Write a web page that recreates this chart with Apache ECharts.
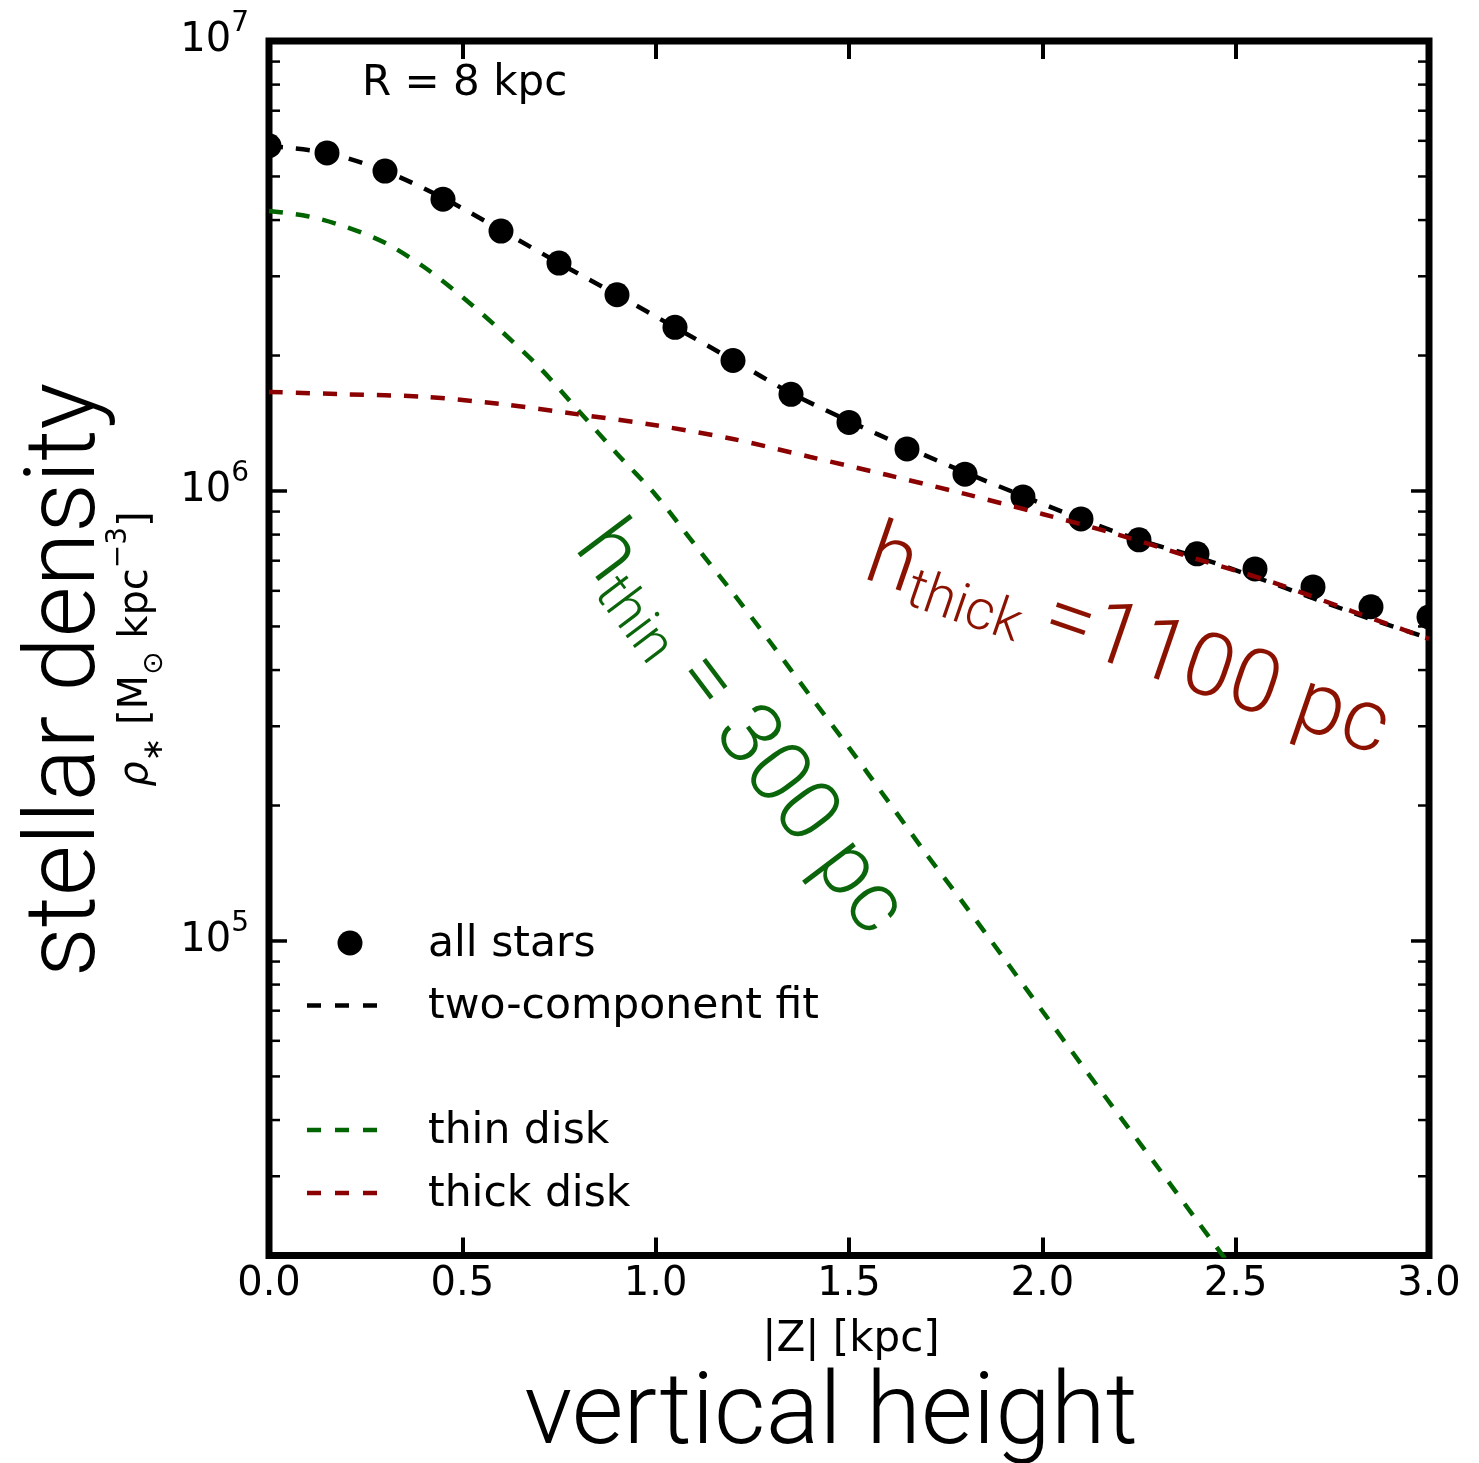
<!DOCTYPE html>
<html>
<head>
<meta charset="utf-8">
<script src="https://cdn.jsdelivr.net/npm/echarts@6/dist/echarts.min.js"></script>
<style>
html,body{margin:0;padding:0;background:#fff;}
#chart{width:1479px;height:1463px;}
</style>
</head>
<body>
<div id="chart"></div>
<script>
// ---- data ----
const dotZ   = [0.00,0.15,0.30,0.45,0.60,0.75,0.90,1.05,1.20,1.35,1.50,1.65,1.80,1.95,2.10,2.25,2.40,2.55,2.70,2.85,3.00];
const dotRho = [5.85e6,5.64e6,5.14e6,4.45e6,3.78e6,3.21e6,2.73e6,2.31e6,1.95e6,1.64e6,1.42e6,1.24e6,1.09e6,9.70e5,8.67e5,7.79e5,7.25e5,6.71e5,6.12e5,5.53e5,5.25e5];

const fitZ   = [0.00,0.15,0.30,0.45,0.60,0.75,0.90,1.05,1.20,1.35,1.50,1.65,1.80,1.95,2.10,2.25,2.40,2.55,2.70,2.85,3.00];
const fitRho = [5.84e6,5.64e6,5.14e6,4.48e6,3.80e6,3.21e6,2.73e6,2.31e6,1.955e6,1.65e6,1.43e6,1.25e6,1.10e6,9.75e5,8.66e5,7.78e5,7.13e5,6.44e5,5.78e5,5.19e5,4.71e5];

const thinZ   = [0.0,0.1,0.2,0.3,0.4,0.5,0.6,0.7,0.8,0.9,1.0,1.1,1.2,1.3,1.4,1.5,1.6,1.7,1.8,1.9,2.0,2.1,2.2,2.3,2.4,2.5];
const thinRho = [4.19e6,4.08e6,3.86e6,3.56e6,3.15e6,2.70e6,2.27e6,1.88e6,1.51e6,1.21e6,9.80e5,7.62e5,5.93e5,4.57e5,3.50e5,2.69e5,2.05e5,1.56e5,1.20e5,9.17e4,6.99e4,5.33e4,4.08e4,3.13e4,2.39e4,1.83e4];

const thickZ   = [0.0,0.2,0.4,0.6,0.8,1.0,1.2,1.4,1.6,1.8,2.0,2.2,2.4,2.6,2.8,3.0];
const thickRho = [1.66e6,1.64e6,1.62e6,1.56e6,1.48e6,1.40e6,1.305e6,1.19e6,1.085e6,9.85e5,8.89e5,7.98e5,7.06e5,6.25e5,5.41e5,4.69e5];

const xTickLabels = ['0.0','0.5','1.0','1.5','2.0','2.5','3.0'];
const yMajorTicks = [1e5,1e6];
const yMinorMult  = [2,3,4,5,6,7,8,9];
const yDecades    = [1e4,1e5,1e6];

const legendItems = ['all stars','two-component fit','thin disk','thick disk'];

// ---- styling ----
const GREEN = '#006400', RED = '#8b0000';
const GREEN_TXT = '#0b650b', RED_TXT = '#8b1200';
const DASH = [14,13];
const TICKFONT = 'DejaVu Sans';
const BIGFONT = 'Roboto';

function pairs(xs, ys){ return xs.map((x,i)=>[x, ys[i]]); }

const yTickVals = [];
yDecades.forEach(d => yMinorMult.forEach(m => { const v = d*m; if (v > 2e4 && v < 1e7) yTickVals.push([v, 0]); }));
yMajorTicks.forEach(v => yTickVals.push([v, 1]));

const chart = echarts.init(document.getElementById('chart'), null, {renderer:'canvas'});

function rotText(x, y, deg, off, style){
  return {type:'group', x:x, y:y, rotation: -deg*Math.PI/180,
    children:[{type:'text', x:0, y:-off, style: style}]};
}
function txt(x, y, text, size, align){
  return {type:'text', x:x, y:y, style:{text:text, fontSize:size, fontFamily:TICKFONT, fill:'#000',
    align:align, verticalAlign:'middle', textAlign:align, textVerticalAlign:'middle'}};
}

const option = {
  animation:false,
  backgroundColor:'#fff',
  grid:{left:269, right:50, top:41, bottom:207.5, show:true, borderColor:'#000', borderWidth:7, backgroundColor:'transparent'},
  xAxis:[
    {type:'value', min:0, max:3, interval:0.5, position:'bottom',
     axisLine:{show:false}, splitLine:{show:false},
     axisTick:{show:true, inside:true, length:18, lineStyle:{color:'#000', width:4}},
     axisLabel:{margin:9, fontSize:40, fontFamily:TICKFONT, color:'#000',
       formatter:(v)=>{ const i = Math.round(v/0.5); return xTickLabels[i] || ''; }}},
    {type:'value', min:0, max:3, interval:0.5, position:'top',
     axisLine:{show:false}, splitLine:{show:false},
     axisTick:{show:true, inside:true, length:18, lineStyle:{color:'#000', width:4}},
     axisLabel:{show:false}}
  ],
  yAxis:{type:'log', logBase:10, min:2e4, max:1e7,
    axisLine:{show:false}, splitLine:{show:false}, axisTick:{show:false}, minorTick:{show:false},
    axisLabel:{margin:20, color:'#000',
      formatter:(v)=>{ const l = Math.log10(v); const e = Math.round(l); if (Math.abs(l-e) > 1e-6) return ''; return '{b|10}{s|' + e + '}'; },
      rich:{ b:{fontSize:40, fontFamily:TICKFONT, color:'#000', lineHeight:62, verticalAlign:'middle'},
             s:{fontSize:28, fontFamily:TICKFONT, color:'#000', lineHeight:28, verticalAlign:'top'} }}},
  series:[
    {type:'custom', name:'all stars', data:pairs(dotZ, dotRho), clip:true, z:2,
     renderItem:(params, api)=>{ const p = api.coord([api.value(0), api.value(1)]);
       return {type:'circle', shape:{cx:p[0], cy:p[1], r:12.5}, style:{fill:'#000'}}; }},
    {type:'line', name:'two-component fit', data:pairs(fitZ, fitRho), smooth:0.3, showSymbol:false, z:3,
     lineStyle:{color:'#000', width:4.5, type:DASH}},
    {type:'line', name:'thin disk', data:pairs(thinZ, thinRho), smooth:0.3, showSymbol:false, z:4,
     lineStyle:{color:GREEN, width:4.5, type:DASH}},
    {type:'line', name:'thick disk', data:pairs(thickZ, thickRho), smooth:0.3, showSymbol:false, z:5,
     lineStyle:{color:RED, width:4.5, type:DASH}},
    {type:'custom', name:'yticks', data:yTickVals, clip:false, z:6, silent:true,
     encode:{y:0},
     renderItem:(params, api)=>{
       const v = api.value(0), major = api.value(1) === 1;
       const pL = api.coord([0, v]), pR = api.coord([3, v]);
       const len = major ? 18 : 11, w = major ? 3.5 : 2.5;
       return {type:'group', children:[
         {type:'line', shape:{x1:pL[0], y1:pL[1], x2:pL[0]+len, y2:pL[1]}, style:{stroke:'#000', lineWidth:w}},
         {type:'line', shape:{x1:pR[0]-len, y1:pR[1], x2:pR[0], y2:pR[1]}, style:{stroke:'#000', lineWidth:w}}
       ]};
     }}
  ],
  graphic:[
    txt(362, 84, 'R = 8 kpc', 42, 'left'),
    // big y title
    {type:'text', x:69, y:680, rotation:Math.PI/2, style:{text:'stellar density', fontSize:98, fontFamily:BIGFONT, fontWeight:300, fill:'#000', align:'center', verticalAlign:'middle', textAlign:'center', textVerticalAlign:'middle'}},
    // rho label
    {type:'text', x:137, y:649, rotation:Math.PI/2, style:{
      text:'{r|ρ}{d|∗}{m| [M}{d|⊙}{m| kpc}{u|−3}{m|]}', fill:'#000', align:'center', verticalAlign:'middle', textAlign:'center', textVerticalAlign:'middle',
      rich:{ r:{fontSize:40, fontFamily:TICKFONT, fontStyle:'italic', lineHeight:64, verticalAlign:'middle'},
             m:{fontSize:40, fontFamily:TICKFONT, lineHeight:64, verticalAlign:'middle'},
             d:{fontSize:28, fontFamily:TICKFONT, lineHeight:28, verticalAlign:'bottom'},
             u:{fontSize:28, fontFamily:TICKFONT, lineHeight:28, verticalAlign:'top'} }}},
    // x titles
    txt(851, 1340, '|Z| [kpc]', 42, 'center'),
    {type:'text', x:831, y:1418, style:{text:'vertical height', fontSize:100, fontFamily:BIGFONT, fontWeight:300, fill:'#000', align:'center', verticalAlign:'middle', textAlign:'center', textVerticalAlign:'middle'}},
    // annotations
    rotText(571, 550, 53, 25, {text:'{h|h}{s|thin}{h| = 300 pc}', fill:GREEN_TXT, align:'left', verticalAlign:'middle', textAlign:'left', textVerticalAlign:'middle',
      rich:{ h:{fontSize:87, fontFamily:BIGFONT, fontWeight:300, lineHeight:94, verticalAlign:'middle'},
             s:{fontSize:56, fontFamily:BIGFONT, fontWeight:300, lineHeight:56, verticalAlign:'bottom'} }}),
    rotText(860, 580, 19, 25, {text:'{h|h}{s|thick}{h| =1100 pc}', fill:RED_TXT, align:'left', verticalAlign:'middle', textAlign:'left', textVerticalAlign:'middle',
      rich:{ h:{fontSize:88, fontFamily:BIGFONT, fontWeight:300, lineHeight:94, verticalAlign:'middle'},
             s:{fontSize:56, fontFamily:BIGFONT, fontWeight:300, lineHeight:56, verticalAlign:'bottom'} }}),
    // legend
    {type:'circle', shape:{cx:350, cy:943, r:12.5}, style:{fill:'#000'}},
    {type:'line', shape:{x1:307, y1:1005.5, x2:379, y2:1005.5}, style:{stroke:'#000', lineWidth:4.5, lineDash:[14,14]}},
    {type:'line', shape:{x1:307, y1:1130, x2:379, y2:1130}, style:{stroke:GREEN, lineWidth:4.5, lineDash:[14,14]}},
    {type:'line', shape:{x1:307, y1:1193, x2:379, y2:1193}, style:{stroke:RED, lineWidth:4.5, lineDash:[14,14]}},
    txt(428, 945, legendItems[0], 42.5, 'left'),
    txt(428, 1007, legendItems[1], 42.5, 'left'),
    txt(428, 1132, legendItems[2], 42.5, 'left'),
    txt(428, 1195, legendItems[3], 42.5, 'left')
  ]
};
chart.setOption(option);
</script>
</body>
</html>
